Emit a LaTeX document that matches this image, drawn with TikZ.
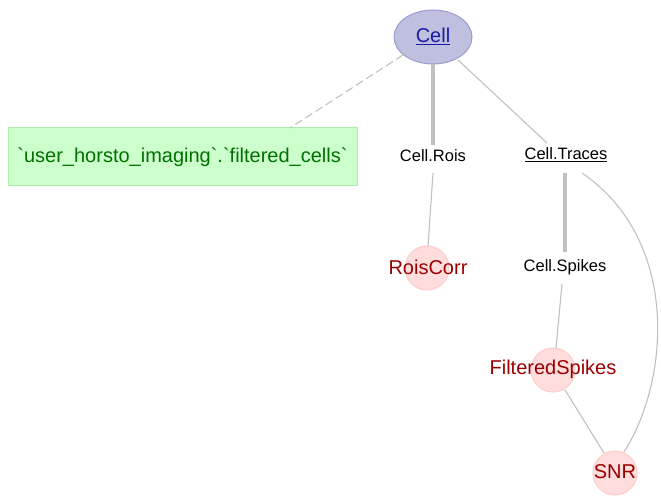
\documentclass[tikz,border=0pt]{standalone}
\usepackage{fontspec}
\setmainfont{Liberation Sans}
\newfontfamily\boxfont{Liberation Sans}[Ligatures=TeXOff]
\usetikzlibrary{shapes.geometric}
\definecolor{edgegray}{HTML}{C0C0C0}
\definecolor{cellfill}{HTML}{BFBFDF}
\definecolor{celldraw}{HTML}{9C9CCF}
\definecolor{cellblue}{HTML}{1A1AA6}
\definecolor{boxfill}{HTML}{CCFFCC}
\definecolor{boxdraw}{HTML}{AAEEAA}
\definecolor{boxtext}{HTML}{007000}
\definecolor{pinkfill}{HTML}{FFDDDD}
\definecolor{pinkdraw}{HTML}{FFCCCC}
\definecolor{redtext}{HTML}{990000}
\begin{document}
\begin{tikzpicture}[x=1pt,y=-1pt,
  thinedge/.style={draw=edgegray,line width=1.1pt},
  thickedge/.style={draw=edgegray,line width=3.2pt},
  dashedge/.style={draw=edgegray,line width=1.1pt,dash pattern=on 8pt off 4pt},
  partnode/.style={text=black,font=\fontsize{16.5}{19}\selectfont,inner sep=1pt},
  pinknode/.style={circle,fill=pinkfill,draw=pinkdraw,line width=1pt,minimum size=44pt,inner sep=0pt},
  pinklabel/.style={text=redtext,font=\fontsize{20}{24}\selectfont,inner sep=0pt}
]
\useasboundingbox (0,0) rectangle (661,502);
% nodes
\node[ellipse,fill=cellfill,draw=celldraw,line width=1pt,minimum width=78pt,minimum height=54pt] (cell) at (433,37) {};
\node[text=cellblue,font=\fontsize{20}{24}\selectfont] at (433,36) {\underline{Cell}};
\node[rectangle,fill=boxfill,draw=boxdraw,line width=1pt,minimum width=349pt,minimum height=58pt,text=boxtext,font=\boxfont\fontsize{20}{24}\selectfont] (filt) at (182.5,157) {`user\_horsto\_imaging`.`filtered\_cells`};
\node[partnode] (rois) at (433,156) {Cell.Rois};
\node[partnode] (traces) at (566,155) {\underline{Cell.Traces}};
\node[partnode] (spikes) at (565,267) {Cell.Spikes};
\node[pinknode] (roiscorr) at (427,268) {};
\node[pinklabel] at (428,267) {RoisCorr};
\node[pinknode] (fspikes) at (553,370) {};
\node[pinklabel] at (553,369) {FilteredSpikes};
\node[pinknode] (snr) at (615,473) {};
\node[pinklabel] at (615,472) {SNR};
% edges
\coordinate (dA) at (403,55);
\coordinate (dB) at (290,128);
\draw[dashedge] (dA) -- (dB);
\coordinate (r1) at (433,64);
\coordinate (r2) at (433,145);
\draw[thickedge] (r1) -- (r2);
\coordinate (t1) at (458,60);
\coordinate (t2) at (547,143);
\draw[thinedge] (t1) -- (t2);
\coordinate (rc1) at (433,173);
\coordinate (rc2) at (428,246);
\draw[thinedge] (rc1) -- (rc2);
\coordinate (s1) at (565,173);
\coordinate (s2) at (565,252);
\draw[thickedge] (s1) -- (s2);
\coordinate (f1) at (562,284);
\coordinate (f2) at (556,348);
\draw[thinedge] (f1) -- (f2);
\coordinate (n1) at (565,390);
\coordinate (n2) at (604,453);
\draw[thinedge] (n1) -- (n2);
\coordinate (c1) at (582,173);
\coordinate (c2) at (624,452);
\draw[thinedge] (c1) .. controls (680,240) and (670,380) .. (c2);
\end{tikzpicture}
\end{document}
